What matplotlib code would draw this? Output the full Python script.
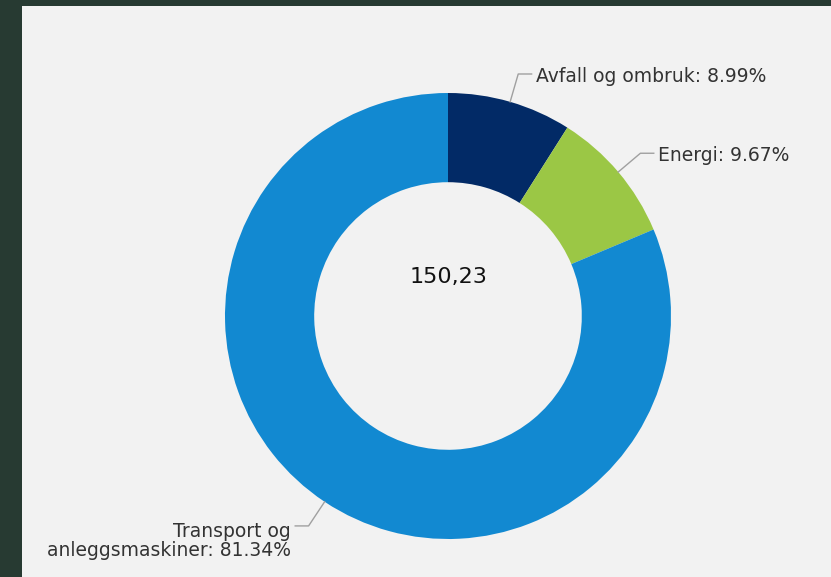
import numpy as np
import matplotlib
matplotlib.use("Agg")
import matplotlib.pyplot as plt
from matplotlib.patches import Rectangle

# ---- data ----
categories = ["Avfall og ombruk", "Energi", "Transport og\nanleggsmaskiner"]
shares = [8.99, 9.67, 81.34]
share_labels = ["8.99%", "9.67%", "81.34%"]
total_label = "150,23"
colors = ["#022a66", "#9bc745", "#1289d1"]

W, H = 831, 577
fig = plt.figure(figsize=(W / 100, H / 100), dpi=100)
fig.patch.set_facecolor("#273a32")
fig.patches.append(Rectangle((22 / W, 0), 1, (H - 6) / H, transform=fig.transFigure,
                             facecolor="#f2f2f2", edgecolor="none", zorder=-10))

cx, cy, R = 448, 316, 223
ax = fig.add_axes([(cx - R) / W, (H - cy - R) / H, 2 * R / W, 2 * R / H])
ax.set_zorder(5)
ax.set_facecolor("none")
wedges, _ = ax.pie(shares, colors=colors, startangle=90, counterclock=False,
                   radius=1.0, wedgeprops=dict(width=0.40, edgecolor="none"))
ax.set_xlim(-1, 1)
ax.set_ylim(-1, 1)
ax.axis("off")

ax.text(0, 0.175, total_label, ha="center", va="center", fontsize=16,
        color="#111111", family="DejaVu Sans")

label_color = "#333333"
line_color = "#a0a0a0"
for w, cat, lab in zip(wedges, categories, share_labels):
    ang = np.deg2rad((w.theta1 + w.theta2) / 2)
    x0, y0 = np.cos(ang), np.sin(ang)
    x1, y1 = 1.13 * x0, 1.13 * y0
    side = 1 if x0 >= 0 else -1
    x2 = x1 + side * 0.06
    ax.plot([x0, x1, x2], [y0, y1, y1], color=line_color, lw=1.0, clip_on=False)
    text = f"{cat}: {lab}"
    ty = y1 - 0.01 if "\n" not in cat else y1 - 0.068
    ax.text(x2 + side * 0.02, ty, text, ha="left" if side > 0 else "right",
            va="center", fontsize=13.5, color=label_color, linespacing=1.05,
            multialignment="right" if side < 0 else "left", clip_on=False)

fig.savefig("out.png", dpi=100, facecolor=fig.get_facecolor())
